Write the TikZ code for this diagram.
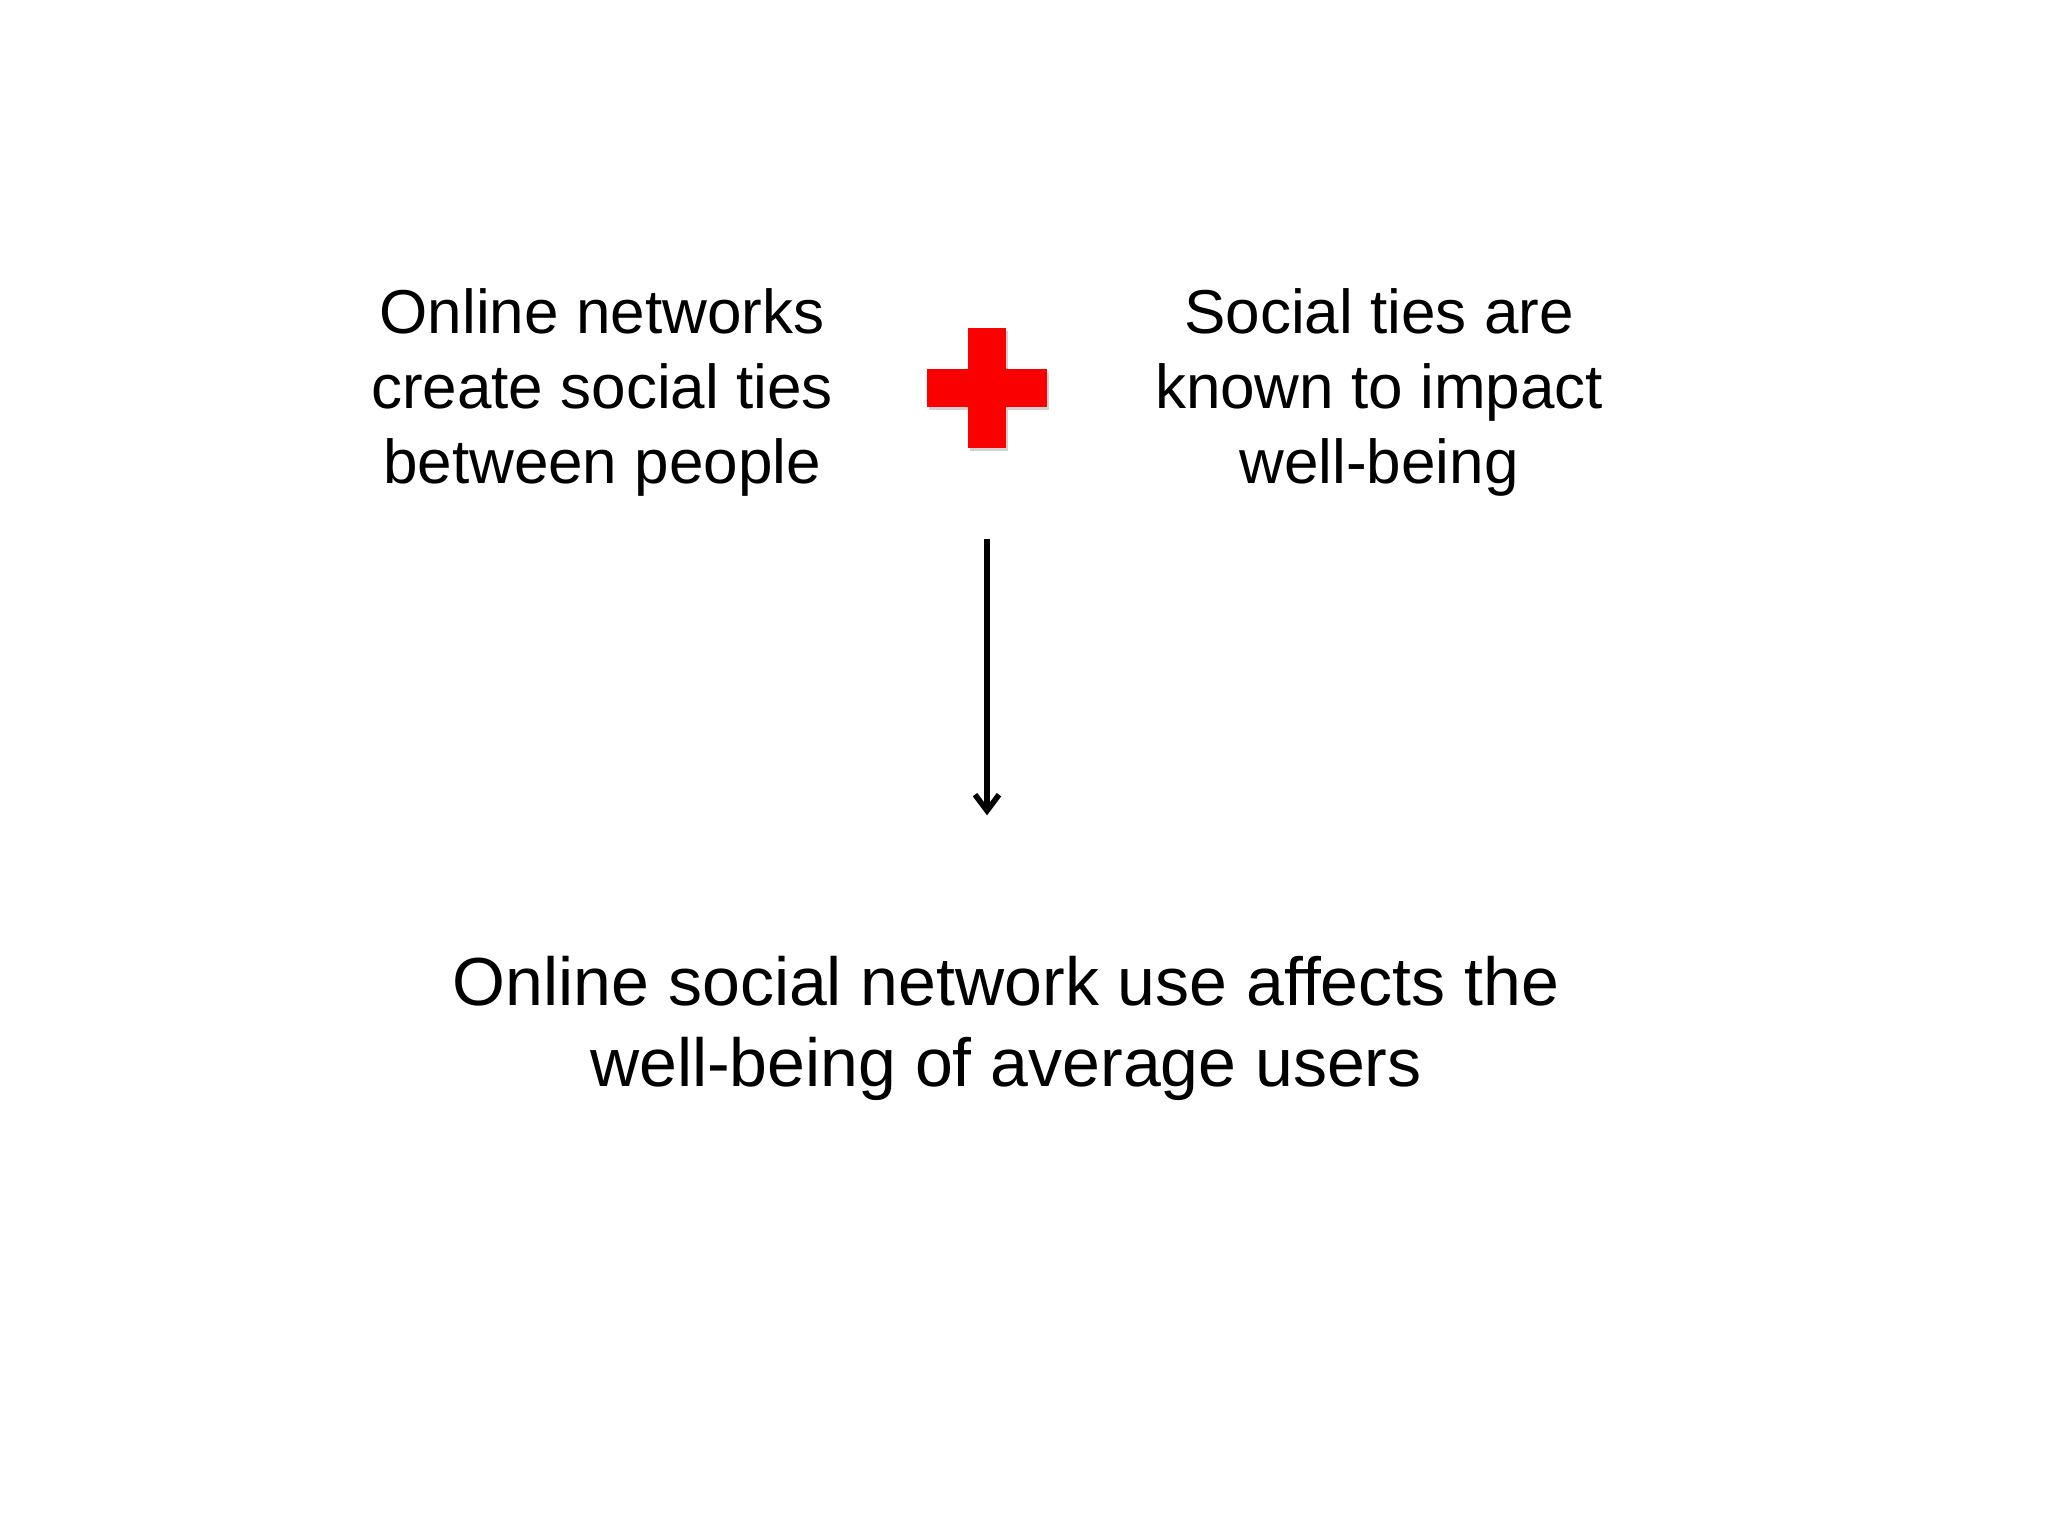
\documentclass[tikz,border=0pt]{standalone}
\usepackage{fontspec}
\setmainfont{Liberation Sans}
\usetikzlibrary{arrows.meta}
\definecolor{plusred}{RGB}{250,0,0}
\tikzstyle{premise}=[inner sep=0pt, align=center, anchor=base,
    font=\fontsize{31}{37.5}\selectfont]
\tikzstyle{result}=[inner sep=0pt, align=center, anchor=base,
    font=\fontsize{34}{40.5}\selectfont]
\newcommand{\premise}{\node[premise]}

\begin{document}
\begin{tikzpicture}[x=0.5pt, y=-0.5pt]
\useasboundingbox (0,0) rectangle (2048,1536);
\premise (ties) at (602,483) {Online networks\\create social ties\\between people};
\premise (impact) at (1379,483) {Social ties are\\known to impact\\well-being};
\node[result] (claim) at (1006,1086) {Online social network use affects the\\well-being of average users};
% the plus sign
\node[inner sep=0pt, minimum width=60pt, minimum height=60pt] (plus) at (987,388) {};
\fill[black!18] ([xshift=1pt,yshift=-1.5pt]plus.north) ++(-9.5pt,0) rectangle ([xshift=10.5pt,yshift=-1.5pt]plus.south);
\fill[black!18] ([xshift=1pt,yshift=7.5pt]plus.west) rectangle ([xshift=1pt,yshift=-11pt]plus.east);
\fill[plusred] ([xshift=-9.5pt]plus.north) rectangle ([xshift=9.5pt]plus.south);
\fill[plusred] ([yshift=9.5pt]plus.west) rectangle ([yshift=-9.5pt]plus.east);
\draw[line width=2.8pt, -{Straight Barb[length=8pt, width=12pt]},
      shorten <=45.5pt, shorten >=70pt]
    (plus.south) -- (plus.south |- claim.north);
\end{tikzpicture}
\end{document}
